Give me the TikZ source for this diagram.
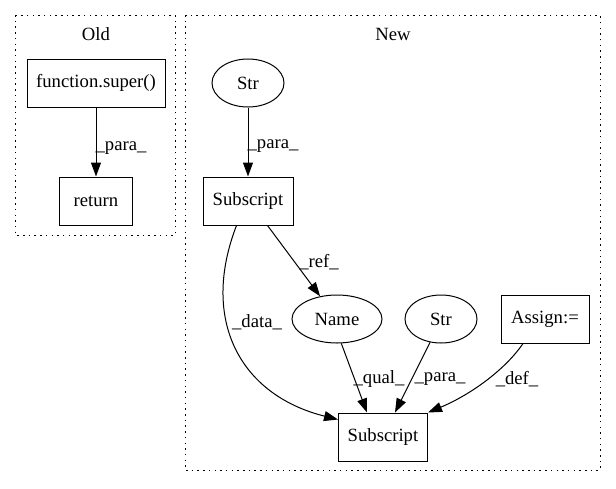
\documentclass[tikz,border=0pt]{standalone}
\usepackage{fontspec}
\setmainfont{Liberation Serif}
\usetikzlibrary{arrows.meta,shapes.geometric}
\begin{document}
\begin{tikzpicture}[x=1pt,y=-1pt,
  every node/.style={font=\fontsize{18.67}{22}\selectfont, inner sep=0pt},
  boxnode/.style={draw, rectangle, line width=1pt, minimum height=48pt},
  ellnode/.style={draw, ellipse, line width=1pt, minimum width=72pt, minimum height=48pt},
  cluster/.style={draw, line width=1pt, dash pattern=on 1.5pt off 4.2pt},
  edge/.style={draw, line width=1pt, -{Triangle[length=14pt,width=10pt]}},
  elabel/.style={anchor=center}]
\useasboundingbox (0,0) rectangle (616,488);
\fill[white] (0,0) rectangle (616,488);
% clusters
\draw[cluster] (15,15) rectangle (175,235);
\draw[cluster] (185,15) rectangle (600,470);
\node (oldlbl) at (96,34) {Old};
\node (newlbl) at (393,34) {New};
% Old
\node[boxnode, minimum width=138pt] (fsuper) at (96,83) {function.super()};
\node[boxnode, minimum width=73pt] (ret) at (96,201) {return};
\draw[edge] (fsuper) -- (ret);
\node[elabel] (l1) at (121,148) {\_para\_};
% New
\node[ellnode] (str1) at (248,83) {Str};
\node[boxnode, minimum width=90pt] (sub1) at (248,201) {Subscript};
\node[ellnode, minimum width=90pt] (name) at (337,319) {Name};
\node[ellnode] (str2) at (441,319) {Str};
\node[boxnode, minimum width=88pt] (assign) at (545,319) {Assign:=};
\node[boxnode, minimum width=89pt] (sub2) at (383,437) {Subscript};
\draw[edge] (str1) -- (sub1);
\node[elabel] (l2) at (273,146) {\_para\_};
\coordinate (s1r) at ([xshift=-26pt]sub1.south east);
\draw[edge] (s1r) -- (name);
\node[elabel] (l3) at (319,262) {\_ref\_};
\coordinate (s1l) at ([xshift=34pt]sub1.south west);
\draw[edge] (s1l) .. controls (200,320) and (240,395) .. ([yshift=-7pt]sub2.north west);
\node[elabel] (l4) at (257,322) {\_data\_};
\draw[edge] (name.-80) -- ([xshift=-16pt]sub2.north);
\node[elabel] (l5) at (379,379) {\_qual\_};
\draw[edge] (str2.-115) -- ([xshift=12pt]sub2.north);
\node[elabel] (l6) at (440,379) {\_para\_};
\coordinate (asrc) at ([xshift=-22pt]assign.south);
\draw[edge] (asrc) .. controls (505,370) and (470,395) .. (sub2.north east);
\node[elabel] (l7) at (517,379) {\_def\_};
\end{tikzpicture}
\end{document}
